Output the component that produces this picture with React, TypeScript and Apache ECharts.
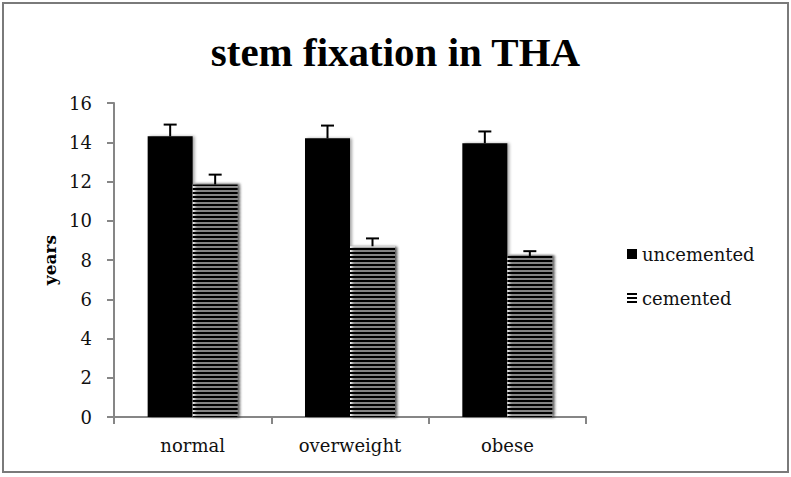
import React, { useEffect, useRef } from "react";
import * as echarts from "echarts";

const categories = ["normal", "overweight", "obese"];
const uncemented = [14.3, 14.2, 13.95];
const uncementedErr = [0.6, 0.65, 0.6];
const cemented = [11.85, 8.7, 8.2];
const cementedErr = [0.5, 0.4, 0.25];
const yTicks = { min: 0, max: 16, interval: 2 };

const BAR_W = 45;

export default function App() {
  const ref = useRef<HTMLDivElement>(null);
  useEffect(() => {
    document.body.style.margin = "0";
    const chart = echarts.init(ref.current!, undefined, { renderer: "svg" });
    const errData: number[][] = [];
    categories.forEach((_, i) => {
      errData.push([i, uncemented[i], uncementedErr[i], 0]);
      errData.push([i, cemented[i], cementedErr[i], 1]);
    });
    const shadow = {
      shadowColor: "rgba(0,0,0,0.35)",
      shadowBlur: 3,
      shadowOffsetX: 2,
      shadowOffsetY: 0,
    };
    chart.setOption({
      animation: false,
      backgroundColor: "#fff",
      title: {
        text: "stem fixation in THA",
        left: "center",
        top: 26,
        textStyle: {
          fontFamily: "Liberation Serif",
          fontWeight: "bold",
          fontSize: 41,
          color: "#000",
        },
      },
      graphic: [
        {
          type: "rect",
          shape: { x: 3, y: 3, width: 785, height: 469 },
          style: { fill: "none", stroke: "#7a7a7a", lineWidth: 2 },
        },
      ],
      legend: {
        orient: "vertical",
        left: 627,
        top: 245,
        padding: 0,
        icon: "rect",
        itemWidth: 10,
        itemHeight: 10,
        itemGap: 26,
        data: ["uncemented", "cemented"],
        textStyle: {
          fontFamily: "DejaVu Serif",
          fontSize: 18,
          color: "#111",
          lineHeight: 18,
        },
      },
      grid: { left: 114, right: 205, top: 103, bottom: 60 },
      xAxis: {
        type: "category",
        data: categories,
        axisLine: { lineStyle: { color: "#868686", width: 2 } },
        axisTick: { show: true, length: 7, lineStyle: { color: "#868686", width: 2 } },
        axisLabel: {
          fontFamily: "DejaVu Serif",
          fontSize: 18,
          color: "#111",
          margin: 19,
        },
      },
      yAxis: {
        type: "value",
        min: yTicks.min,
        max: yTicks.max,
        interval: yTicks.interval,
        name: "years",
        nameLocation: "middle",
        nameGap: 55,
        nameTextStyle: {
          fontFamily: "DejaVu Serif",
          fontWeight: "bold",
          fontSize: 17,
          color: "#000",
        },
        splitLine: { show: false },
        axisLine: { show: true, lineStyle: { color: "#868686", width: 2 } },
        axisTick: { show: true, length: 7, lineStyle: { color: "#868686", width: 2 } },
        axisLabel: {
          fontFamily: "DejaVu Serif",
          fontSize: 18,
          color: "#111",
          margin: 22,
        },
      },
      series: [
        {
          name: "uncemented",
          type: "bar",
          data: uncemented,
          barWidth: BAR_W,
          barGap: "0%",
          itemStyle: { color: "#000", ...shadow },
        },
        {
          name: "cemented",
          type: "bar",
          data: cemented,
          barWidth: BAR_W,
          barGap: "0%",
          itemStyle: {
            color: "#fff",
            ...shadow,
            decal: {
              symbol: "rect",
              symbolSize: 1,
              dashArrayX: [1, 0],
              dashArrayY: [2, 2],
              rotation: 0,
              color: "#000",
            },
          },
        },
        {
          name: "err",
          type: "custom",
          data: errData,
          z: 10,
          renderItem: (params: any, api: any) => {
            const cat = api.value(0);
            const val = api.value(1);
            const err = api.value(2);
            const s = api.value(3);
            const base = api.coord([cat, val]);
            const top = api.coord([cat, val + err]);
            const x = base[0] + (s === 0 ? -BAR_W / 2 : BAR_W / 2);
            return {
              type: "group",
              children: [
                {
                  type: "line",
                  shape: { x1: x, y1: base[1], x2: x, y2: top[1] },
                  style: { stroke: "#000", lineWidth: 2 },
                },
                {
                  type: "line",
                  shape: { x1: x - 6.5, y1: top[1], x2: x + 6.5, y2: top[1] },
                  style: { stroke: "#000", lineWidth: 2 },
                },
              ],
            };
          },
        },
      ],
    });
    return () => chart.dispose();
  }, []);
  return <div ref={ref} style={{ width: 791, height: 477 }} />;
}
